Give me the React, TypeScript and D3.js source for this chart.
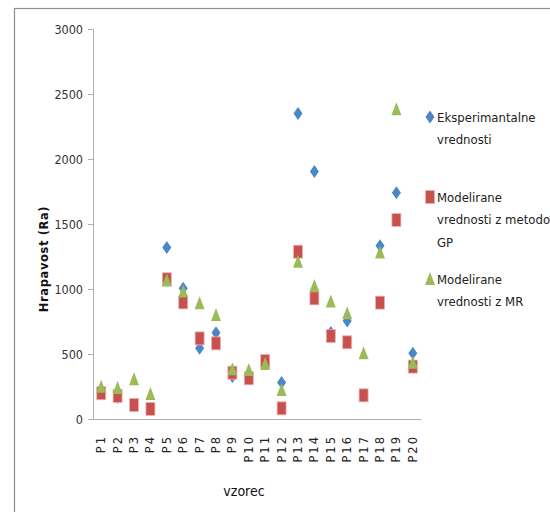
import React, { useEffect, useRef } from 'react';
import * as d3 from 'd3';

const samples = ['P1', 'P2', 'P3', 'P4', 'P5', 'P6', 'P7', 'P8', 'P9', 'P10',
  'P11', 'P12', 'P13', 'P14', 'P15', 'P16', 'P17', 'P18', 'P19', 'P20'];

const experimental = [200, 165, 100, 80, 1320, 1005, 545, 664, 326, 315,
  440, 280, 2350, 1903, 665, 754, 180, 1333, 1741, 505];
const modelGP = [198, 177, 108, 77, 1075, 897, 620, 582, 356, 313,
  446, 82, 1287, 928, 638, 590, 182, 895, 1531, 403];
const modelMR = [248, 238, 305, 192, 1065, 980, 890, 800, 382, 377,
  423, 223, 1210, 1023, 903, 813, 505, 1280, 2382, 433];

const yTicks = [0, 500, 1000, 1500, 2000, 2500, 3000];

const legendItems = [
  { shape: 'diamond', color: '#4A86C8', lines: ['Eksperimantalne', 'vrednosti'] },
  { shape: 'square', color: '#C8504D', lines: ['Modelirane', 'vrednosti z metodo', 'GP'] },
  { shape: 'triangle', color: '#9BBB59', lines: ['Modelirane', 'vrednosti z MR'] },
];

const narrow = '"DejaVu Sans Condensed", "DejaVu Sans", sans-serif';

const App = () => {
  const svgRef = useRef(null);

  useEffect(() => {
    const svg = d3.select(svgRef.current);
    svg.selectAll('*').remove();

    const width = 550;
    const height = 512;
    const plot = { left: 93, right: 421, top: 29, bottom: 419 };

    // outer frame (cropped on the right and bottom)
    svg.append('rect')
      .attr('x', 14.5).attr('y', 8.5)
      .attr('width', 600).attr('height', 600)
      .attr('fill', 'white')
      .attr('stroke', '#8c8c8c')
      .attr('stroke-width', 1.2);

    const x = d3.scaleBand()
      .domain(samples)
      .range([plot.left, plot.right]);

    const y = d3.scaleLinear()
      .domain([0, 3000])
      .range([plot.bottom, plot.top]);

    // y axis
    const yAxis = svg.append('g')
      .attr('transform', `translate(${plot.left},0)`)
      .call(d3.axisLeft(y).tickValues(yTicks).tickSize(5).tickPadding(5).tickFormat(d3.format('d')));
    yAxis.select('.domain').attr('stroke', '#b0b0b0');
    yAxis.selectAll('.tick line').attr('stroke', '#b0b0b0');
    yAxis.selectAll('text')
      .style('font-family', narrow)
      .style('font-stretch', 'condensed')
      .style('font-size', '12.5px')
      .attr('fill', '#333');

    // x axis
    const xAxis = svg.append('g')
      .attr('transform', `translate(0,${plot.bottom})`)
      .call(d3.axisBottom(x).tickSize(0).tickSizeOuter(0));
    xAxis.select('.domain').attr('stroke', '#b0b0b0');
    xAxis.selectAll('text')
      .style('font-family', '"DejaVu Sans", sans-serif')
      .style('font-size', '11.5px')
      .style('letter-spacing', '2px')
      .attr('fill', '#222')
      .attr('text-anchor', 'end')
      .attr('transform', 'rotate(-90)')
      .attr('x', -16)
      .attr('y', 0)
      .attr('dy', '0.35em');

    // axis titles
    svg.append('text')
      .attr('transform', `translate(48,${(plot.top + plot.bottom) / 2 + 35}) rotate(-90)`)
      .attr('text-anchor', 'middle')
      .style('font-family', '"DejaVu Sans", sans-serif')
      .style('font-size', '11.5px')
      .style('font-weight', 'bold')
      .style('letter-spacing', '0.6px')
      .attr('fill', '#111')
      .text('Hrapavost (Ra)');

    svg.append('text')
      .attr('x', 244)
      .attr('y', 496)
      .attr('text-anchor', 'middle')
      .style('font-family', narrow)
      .style('font-stretch', 'condensed')
      .style('font-size', '14px')
      .attr('fill', '#111')
      .text('vzorec');

    const cx = (i) => x(samples[i]) + x.bandwidth() / 2;

    const drawMarker = (g, shape, color, px, py) => {
      if (shape === 'diamond') {
        g.append('path')
          .attr('d', `M${px},${py - 6.5}L${px + 4.5},${py}L${px},${py + 6.5}L${px - 4.5},${py}Z`)
          .attr('fill', color);
      } else if (shape === 'square') {
        g.append('rect')
          .attr('x', px - 4.5).attr('y', py - 6.5)
          .attr('width', 9).attr('height', 13)
          .attr('fill', color)
          .attr('stroke', '#e8b4b2')
          .attr('stroke-width', 0.8);
      } else {
        g.append('path')
          .attr('d', `M${px},${py - 7}L${px + 5},${py + 6}L${px - 5},${py + 6}Z`)
          .attr('fill', color);
      }
    };

    const series = [experimental, modelGP, modelMR];
    series.forEach((vals, s) => {
      const g = svg.append('g');
      vals.forEach((v, i) => drawMarker(g, legendItems[s].shape, legendItems[s].color, cx(i), y(v)));
    });

    // legend
    const legendTops = [117, 197, 279];
    legendItems.forEach((item, k) => {
      const g = svg.append('g');
      drawMarker(g, item.shape, item.color, 430, legendTops[k]);
      item.lines.forEach((line, j) => {
        g.append('text')
          .attr('x', 437)
          .attr('y', legendTops[k] + j * 22.5)
          .attr('dy', '0.35em')
          .style('font-family', narrow)
          .style('font-stretch', 'condensed')
          .style('font-size', '13px')
          .attr('fill', '#222')
          .text(line);
      });
    });

    svg.attr('viewBox', `0 0 ${width} ${height}`);
  }, []);

  return (
    <div style={{ position: 'fixed', left: 0, top: 0, width: 550, height: 512, background: 'white' }}>
      <svg ref={svgRef} width={550} height={512} style={{ display: 'block' }} />
    </div>
  );
};

export default App;
